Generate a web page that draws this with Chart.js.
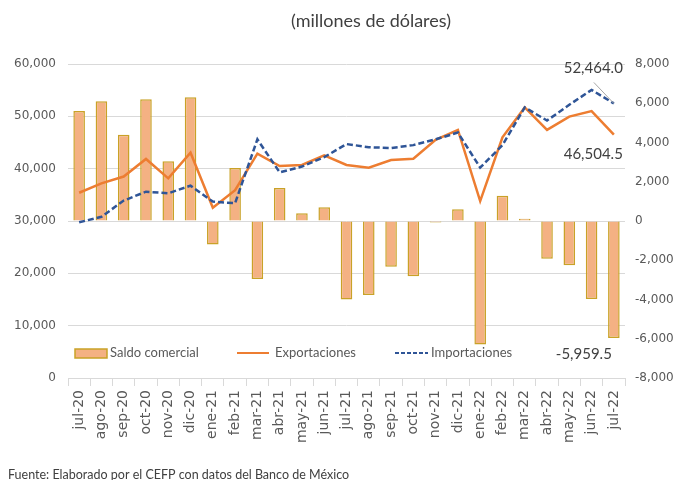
<!DOCTYPE html>
<html>
<head>
<meta charset="utf-8">
<script src="https://cdn.jsdelivr.net/npm/chart.js@4"></script>
<style>
  html, body { margin: 0; padding: 0; background: #fff; }
  #wrap { width: 679px; height: 480px; }
</style>
</head>
<body>
<div id="wrap"><canvas id="grafico" width="679" height="480"></canvas></div>
<script>
const meses = ['jul-20', 'ago-20', 'sep-20', 'oct-20', 'nov-20', 'dic-20', 'ene-21', 'feb-21', 'mar-21', 'abr-21', 'may-21', 'jun-21',
    'jul-21', 'ago-21', 'sep-21', 'oct-21', 'nov-21', 'dic-21', 'ene-22', 'feb-22', 'mar-22', 'abr-22', 'may-22', 'jun-22', 'jul-22'];
const saldo = [5600, 6100, 4400, 6200, 3050, 6300, -1200, 2700, -2950, 1680, 400, 700,
    -4000, -3770, -2330, -2820, -80, 600, -6290, 1290, 120, -1920, -2260, -3975, -5959.5];
const exportaciones = [35400, 37200, 38500, 41850, 38150, 43050, 32550, 35900, 42870, 40500, 40700, 42550,
    40700, 40200, 41650, 41900, 45500, 47400, 33800, 46000, 51700, 47400, 49950, 51000, 46504.5];
const importaciones = [29750, 30800, 33900, 35600, 35300, 36750, 33700, 33400, 45600, 39300, 40400, 42200,
    44700, 44100, 43950, 44500, 45600, 46900, 40200, 44500, 51700, 49200, 52200, 55050, 52464.0];

const gris = '#595959';
const fmt = v => v.toLocaleString('en-US', { minimumFractionDigits: 1, maximumFractionDigits: 1 });

// textos fijos: titulo, leyenda, etiquetas de ultimos valores, fuente
const extras = {
    id: 'extras',
    afterDraw(chart) {
        const ctx = chart.ctx;
        const area = chart.chartArea;
        ctx.save();
        ctx.fillStyle = '#404040';
        ctx.font = '18px Lato, sans-serif';
        ctx.textAlign = 'center';
        ctx.textBaseline = 'middle';
        ctx.fillText('(millones de dólares)', 371, 21);

        // leyenda
        const ly = area.bottom - 25;
        ctx.font = '13px Lato, sans-serif';
        ctx.textAlign = 'left';
        ctx.fillStyle = '#F4B183';
        ctx.fillRect(75, ly - 4, 32, 9);
        ctx.strokeStyle = '#C9A227';
        ctx.lineWidth = 1.5;
        ctx.strokeRect(75, ly - 4, 32, 9);
        ctx.fillStyle = gris;
        ctx.fillText('Saldo comercial', 110, ly);
        ctx.strokeStyle = '#ED7D31';
        ctx.lineWidth = 2;
        ctx.beginPath(); ctx.moveTo(237, ly); ctx.lineTo(269, ly); ctx.stroke();
        ctx.fillText('Exportaciones', 275, ly);
        ctx.strokeStyle = '#2F5597';
        ctx.setLineDash([4, 2]);
        ctx.beginPath(); ctx.moveTo(395, ly); ctx.lineTo(428, ly); ctx.stroke();
        ctx.setLineDash([]);
        ctx.fillText('Importaciones', 431, ly);

        // etiquetas del ultimo mes
        const n = meses.length - 1;
        const pImp = chart.getDatasetMeta(2).data[n];
        const pExp = chart.getDatasetMeta(1).data[n];
        const pSal = chart.getDatasetMeta(0).data[n];
        ctx.fillStyle = '#404040';
        ctx.font = '15px Lato, sans-serif';
        ctx.textAlign = 'right';
        ctx.fillText(fmt(importaciones[n]), pImp.x + 9, pImp.y - 35);
        ctx.strokeStyle = '#a6a6a6';
        ctx.lineWidth = 1;
        ctx.beginPath(); ctx.moveTo(pImp.x - 20, pImp.y - 21); ctx.lineTo(pImp.x, pImp.y); ctx.stroke();
        ctx.fillText(fmt(exportaciones[n]), pExp.x + 9, pExp.y + 20);
        ctx.fillText(fmt(saldo[n]), pSal.x - 2, pSal.y + 16);

        // fuente
        ctx.fillStyle = '#404040';
        ctx.font = '12.5px Lato, sans-serif';
        ctx.textAlign = 'left';
        ctx.textBaseline = 'alphabetic';
        ctx.fillText('Fuente: Elaborado por el CEFP con datos del Banco de México', 8, 479);
        ctx.restore();
    }
};

new Chart(document.getElementById('grafico'), {
    data: {
        labels: meses,
        datasets: [{
            type: 'bar',
            label: 'Saldo comercial',
            data: saldo,
            yAxisID: 'yDer',
            backgroundColor: '#F4B183',
            borderColor: '#C9A227',
            borderWidth: 1.5,
            categoryPercentage: 1,
            barPercentage: 0.52,
            order: 3
        }, {
            type: 'line',
            label: 'Exportaciones',
            data: exportaciones,
            yAxisID: 'yIzq',
            borderColor: '#ED7D31',
            borderWidth: 2.5,
            pointRadius: 0,
            tension: 0,
            order: 2
        }, {
            type: 'line',
            label: 'Importaciones',
            data: importaciones,
            yAxisID: 'yIzq',
            borderColor: '#2F5597',
            borderWidth: 2.5,
            borderDash: [6, 3],
            pointRadius: 0,
            tension: 0,
            order: 1
        }]
    },
    options: {
        responsive: false,
        animation: false,
        layout: { padding: { top: 64, left: 0, right: 0, bottom: 0 } },
        plugins: {
            legend: { display: false },
            tooltip: { enabled: false }
        },
        scales: {
            x: {
                offset: true,
                grid: { drawOnChartArea: false, drawTicks: true, tickLength: 8, color: '#d9d9d9', offset: true },
                border: { color: '#d9d9d9' },
                ticks: { color: gris, font: { family: 'DejaVu Sans', size: 14 }, minRotation: 90, maxRotation: 90, autoSkip: false, padding: 4 },
                afterFit: s => { s.height = 102; }
            },
            yIzq: {
                position: 'left',
                min: 0, max: 60000,
                ticks: { stepSize: 10000, color: gris, font: { family: 'DejaVu Sans', size: 12 }, padding: 12, callback: v => v.toLocaleString('en-US') },
                grid: { color: '#d9d9d9', drawTicks: false },
                border: { display: false },
                afterFit: s => { s.width = 68; }
            },
            yDer: {
                position: 'right',
                min: -8000, max: 8000,
                ticks: { stepSize: 2000, color: gris, font: { family: 'DejaVu Sans', size: 12 }, padding: 10, callback: v => v.toLocaleString('en-US') },
                grid: { drawOnChartArea: false, drawTicks: false },
                border: { display: false },
                afterFit: s => { s.width = 54; }
            }
        }
    },
    plugins: [extras]
});
</script>
</body>
</html>
